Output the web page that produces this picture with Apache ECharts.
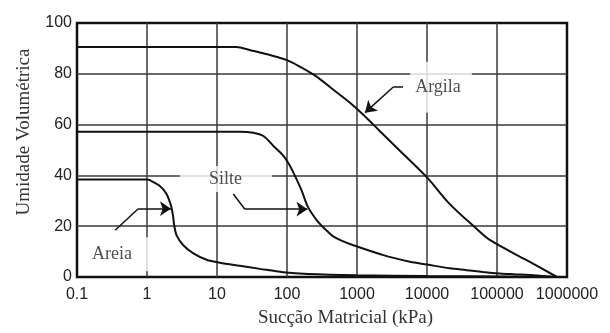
<!DOCTYPE html>
<html>
<head>
<meta charset="utf-8">
<script src="https://cdn.jsdelivr.net/npm/echarts@6/dist/echarts.min.js"></script>
<style>
html,body{margin:0;padding:0;background:#fff;}
#c{width:610px;height:333px;}
</style>
</head>
<body>
<div id="c"></div>
<script>
// ---- data ----
const xTickLabels = ['0.1', '1', '10', '100', '1000', '10000', '100000', '1000000'];
const yTickLabels = ['0', '20', '40', '60', '80', '100'];

const argila = [[0.1,90.6],[19,90.6],[30,89.3],[57,87.4],[100,85.4],[153,82.8],[265,78.9],[460,73.7],[800,68.5],[1230,63.9],[2130,57.4],[3700,50.9],[10000,39.2],[21000,28.8],[51000,19.0],[80000,14.5],[265000,6.6],[720000,0]];
const silte = [[0.1,57.2],[21,57.2],[33,56.8],[46,55.5],[64,51.6],[89,47.7],[110,43.8],[130,39.8],[162,34.0],[200,27.5],[280,21.6],[390,17.6],[458,16.0],[600,14.3],[886,12.5],[2380,8.6],[5715,6.0],[10000,4.9],[21000,3.4],[37000,2.7],[63000,2.0],[110000,1.4],[170000,1.1],[330000,0.7],[720000,0]];
const areia = [[0.1,38.4],[1.0,38.4],[1.1,38.1],[1.5,36.0],[1.9,32.7],[2.2,28.1],[2.35,24.2],[2.45,20.3],[2.65,16.4],[3.3,12.5],[4.6,9.3],[7.1,6.8],[11,5.6],[21,4.4],[41,3.2],[88,1.9],[200,1.2],[1000,0.7],[10000,0.4],[100000,0.2],[700000,0]];

const labelNames = ['Argila', 'Silte', 'Areia'];
const labelPoints = [[15850,74.7],[13.4,38.6],[0.379,9.0]];

const argilaArrow = [[4540,74.8],[3300,74.8],[1300,64.7]];
const silteArrow = [[17.1,32.7],[25,26.7],[196,26.7]];
const areiaArrow = [[0.35,18.4],[0.75,26.9],[2.2,26.9]];

// ---- chart ----
const arrows = [argilaArrow, silteArrow, areiaArrow];
const bodySegs = [];
const headSegs = [];
arrows.forEach(a => {
  for (let i = 0; i < a.length - 2; i++) bodySegs.push({coords: [a[i], a[i+1]]});
  headSegs.push({coords: [a[a.length-2], a[a.length-1]]});
});

const labelPadding = {
  'Argila': [13, 11, 20, 5],
  'Silte': [4, 30, 4, 29],
  'Areia': [16, 18, 0, 7]
};

const serif = '"Liberation Serif","Times New Roman",serif';
const sans = '"Liberation Sans",Arial,sans-serif';

const chart = echarts.init(document.getElementById('c'), null, {renderer: 'canvas'});
const curveStyle = {color: '#111', width: 2};
function curve(name, data) {
  return {
    name, type: 'line', data, showSymbol: false, symbol: 'none',
    smooth: 0.3,
    lineStyle: curveStyle, itemStyle: {color: '#111'}, z: 3, silent: true
  };
}

chart.setOption({
  animation: false,
  backgroundColor: '#fff',
  grid: {left: 77, right: 43, top: 23, bottom: 54, show: true, borderColor: '#111', borderWidth: 2.5, backgroundColor: '#fff'},
  xAxis: {
    type: 'log', logBase: 10, min: 0.1, max: 1000000,
    name: 'Sucção Matricial (kPa)', nameLocation: 'middle', nameGap: 32,
    nameTextStyle: {fontFamily: serif, fontSize: 19, color: '#333', padding: [0, 0, 0, 47]},
    axisLine: {show: false}, axisTick: {show: false},
    axisLabel: {
      fontFamily: sans, fontSize: 16, color: '#222', margin: 10,
      formatter: v => { const i = Math.round(Math.log10(v)) + 1; return xTickLabels[i] !== undefined ? xTickLabels[i] : ''; }
    },
    splitLine: {show: true, showMinLine: false, showMaxLine: false, lineStyle: {color: '#3a3a3a', width: 1.5}}
  },
  yAxis: {
    type: 'value', min: 0, max: 100, interval: 20,
    name: 'Umidade Volumétrica', nameLocation: 'middle', nameGap: 43,
    nameTextStyle: {fontFamily: serif, fontSize: 19, color: '#333', padding: [0, 0, 0, 36]},
    axisLine: {show: false}, axisTick: {show: false},
    axisLabel: {
      fontFamily: sans, fontSize: 16, color: '#222', margin: 5,
      formatter: v => yTickLabels[Math.round(v / 20)]
    },
    splitLine: {show: true, showMinLine: false, showMaxLine: false, lineStyle: {color: '#3a3a3a', width: 1.5}}
  },
  series: [
    curve('Argila', argila),
    curve('Silte', silte),
    curve('Areia', areia),
    {
      type: 'lines', coordinateSystem: 'cartesian2d', polyline: false,
      data: bodySegs, symbol: ['none', 'none'],
      lineStyle: {color: '#111', width: 1.5, opacity: 1, curveness: 0}, z: 4, silent: true
    },
    {
      type: 'lines', coordinateSystem: 'cartesian2d', polyline: false,
      data: headSegs, symbol: ['none', 'arrow'], symbolSize: [8, 11],
      lineStyle: {color: '#111', width: 1.5, opacity: 1, curveness: 0}, z: 4, silent: true
    },
    {
      type: 'scatter', symbolSize: 1, itemStyle: {color: 'rgba(0,0,0,0)'}, z: 5, silent: true,
      data: labelNames.map((n, i) => ({
        name: n, value: labelPoints[i],
        label: {
          show: true, position: 'inside', formatter: n,
          fontFamily: serif, fontSize: 18, color: '#222', lineHeight: 18,
          backgroundColor: '#fff', padding: labelPadding[n]
        }
      }))
    }
  ]
});
</script>
</body>
</html>
